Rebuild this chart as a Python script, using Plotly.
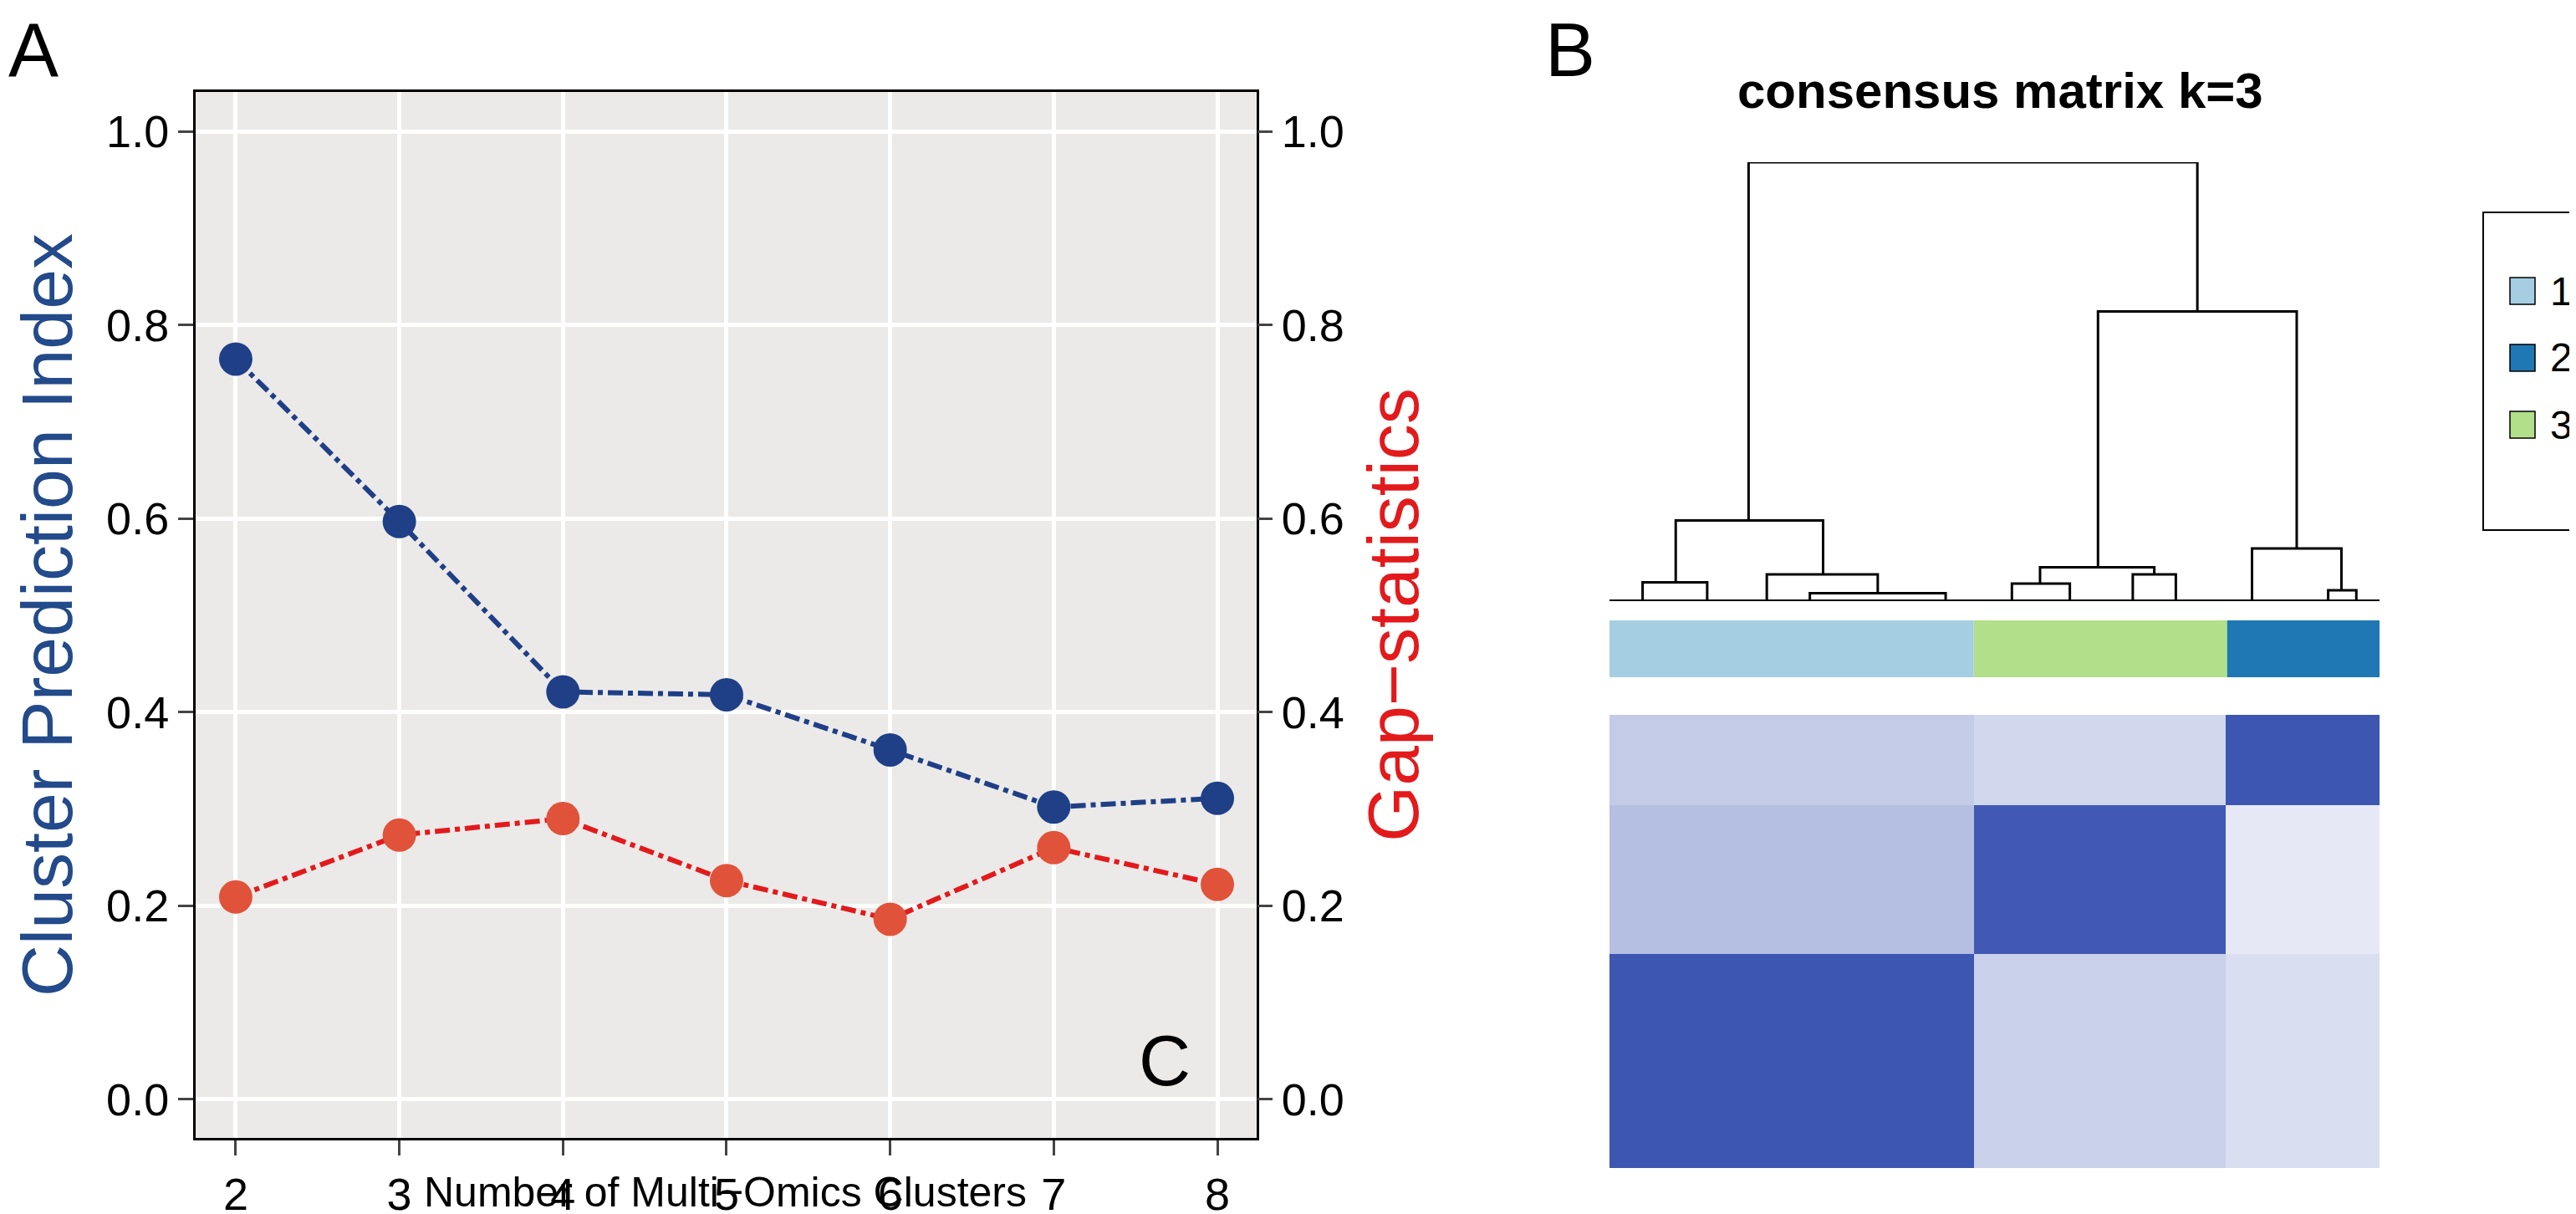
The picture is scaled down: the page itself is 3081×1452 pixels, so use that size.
import plotly.graph_objects as go

W, H = 3081, 1452
k_vals = [2, 3, 4, 5, 6, 7, 8]
cpi = [0.765, 0.597, 0.421, 0.418, 0.361, 0.302, 0.311]
gap = [0.209, 0.273, 0.290, 0.226, 0.186, 0.260, 0.222]

# consensus matrix (block level), samples ordered as dendrogram leaves
col_edges = [0, 220, 372, 465]          # cluster 1, 3, 2
row_edges = [0, 93, 245, 465]           # cluster 2, 3, 1 (top to bottom)
cons = [[0.28, 0.22, 0.92],
        [0.35, 0.90, 0.12],
        [0.92, 0.25, 0.18]]
ann_start = [0, 220, 373]
ann_end = [220, 373, 465]
ann_cluster = ["1", "3", "2"]
cl_colors = {"1": "#A6CEE3", "2": "#1F78B4", "3": "#B2DF8A"}

# dendrogram nodes: left x, right x, height, left child height, right child height
node_lx = [84, 40, 20, 95, 121, 295, 260, 243, 316, 388, 434]
node_rx = [355, 129, 59, 162, 203, 415, 329, 278, 342, 442, 451]
node_h = [1.0, 0.184, 0.043, 0.061, 0.018, 0.66, 0.077, 0.04, 0.061, 0.12, 0.025]
node_lh = [0.184, 0.043, 0.0, 0.0, 0.0, 0.077, 0.04, 0.0, 0.0, 0.0, 0.0]
node_rh = [0.66, 0.061, 0.0, 0.018, 0.0, 0.12, 0.061, 0.0, 0.0, 0.025, 0.0]

fig = go.Figure()
blue, red = "#1F3F87", "#E31A1C"
fig.add_trace(go.Scatter(x=k_vals, y=cpi, mode="lines+markers", xaxis="x", yaxis="y",
                         line=dict(color=blue, width=6, dash="dashdot"),
                         marker=dict(color=blue, size=40), showlegend=False))
fig.add_trace(go.Scatter(x=k_vals, y=gap, mode="lines+markers", xaxis="x", yaxis="y5",
                         line=dict(color=red, width=6, dash="dashdot"),
                         marker=dict(color="#E0533A", size=40), showlegend=False))

fig.add_trace(go.Heatmap(x=col_edges, y=row_edges, z=cons, xaxis="x2", yaxis="y2",
                         colorscale=[[0, "#FFFFFF"], [1, "#2C47AA"]], zmin=0, zmax=1,
                         showscale=False))

dx, dy = [], []
for lx, rx, h, lh, rh in zip(node_lx, node_rx, node_h, node_lh, node_rh):
    dx += [lx, lx, rx, rx, None]
    dy += [lh, h, h, rh, None]
fig.add_trace(go.Scatter(x=dx, y=dy, mode="lines", xaxis="x3", yaxis="y3",
                         line=dict(color="black", width=3), showlegend=False))
fig.add_trace(go.Scatter(x=[0, 465], y=[0, 0], mode="lines", xaxis="x3", yaxis="y3",
                         line=dict(color="black", width=4), showlegend=False))

shapes = [dict(type="rect", xref="paper", yref="paper", x0=226 / W, x1=1495 / W,
               y0=1 - 1353 / H, y1=1 - 102 / H, fillcolor="#EBEAE8", line_width=0, layer="below")]
for s, e, c in zip(ann_start, ann_end, ann_cluster):
    shapes.append(dict(type="rect", xref="x2", yref="paper", x0=s, x1=e,
                       y0=1 - 802 / H, y1=1 - 734 / H, fillcolor=cl_colors[c], line_width=0))
# legend box
shapes.append(dict(type="rect", xref="paper", yref="paper", x0=2962 / W, x1=3076 / W,
                   y0=1 - 626 / H, y1=1 - 246 / H, line=dict(color="black", width=2)))
annotations = []
for i, c in enumerate(["1", "2", "3"]):
    yc = 340 + i * 80
    shapes.append(dict(type="rect", xref="paper", yref="paper", x0=2994 / W, x1=3024 / W,
                       y0=1 - (yc + 16) / H, y1=1 - (yc - 16) / H,
                       fillcolor=cl_colors[c], line=dict(color="black", width=1.5)))
    annotations.append(dict(text=c, x=3040 / W, y=1 - yc / H, xref="paper", yref="paper",
                            showarrow=False, xanchor="left", yanchor="middle",
                            font=dict(size=48, color="black")))

annotations += [
    dict(text="A", x=0.0, y=1.0, xref="paper", yref="paper", showarrow=False,
         xanchor="left", yanchor="top", font=dict(size=90)),
    dict(text="B", x=1838 / W, y=1.0, xref="paper", yref="paper", showarrow=False,
         xanchor="left", yanchor="top", font=dict(size=90)),
    dict(text="C", x=7.68, y=0.04, xref="x", yref="y", showarrow=False,
         font=dict(size=86)),
    dict(text="Number of Multi−Omics Clusters", x=860 / W, y=1 - 1418 / H, xref="paper",
         yref="paper", showarrow=False, xanchor="center", yanchor="middle", font=dict(size=50)),
    dict(text="<b>consensus matrix k=3</b>", x=2384 / W, y=1 - 100 / H, xref="paper", yref="paper",
         showarrow=False, xanchor="center", yanchor="middle",
         font=dict(size=60, family="Liberation Sans Narrow, Arial Narrow, sans-serif")),
]

fig.update_layout(
    width=W, height=H, margin=dict(l=0, r=0, t=0, b=0),
    paper_bgcolor="white", plot_bgcolor="rgba(0,0,0,0)",
    font=dict(family="Liberation Sans, Arial, sans-serif", color="black", size=54),
    shapes=shapes, annotations=annotations,
    xaxis=dict(domain=[226 / W, 1495 / W], range=[1.755, 8.24], tickvals=k_vals,
               showgrid=True, gridcolor="white", gridwidth=5, zeroline=False,
               ticks="outside", ticklen=18, tickwidth=3, tickfont=dict(size=54),
               showline=True, linecolor="black", linewidth=3, mirror=True,
               anchor="y"),
    yaxis=dict(domain=[1 - 1353 / H, 1 - 102 / H], range=[-0.04, 1.041],
               tickvals=[0, 0.2, 0.4, 0.6, 0.8, 1.0], ticktext=["0.0", "0.2", "0.4", "0.6", "0.8", "1.0"],
               showgrid=True, gridcolor="white", gridwidth=5, zeroline=False,
               ticks="outside", ticklen=18, tickwidth=3, tickfont=dict(size=54),
               showline=True, linecolor="black", linewidth=3, mirror=True,
               title=dict(text="Cluster Prediction Index", font=dict(size=86, color="#234A8A"), standoff=18),
               anchor="x"),
    yaxis5=dict(overlaying="y", side="right", anchor="x", range=[-0.04, 1.041],
                tickvals=[0, 0.2, 0.4, 0.6, 0.8, 1.0], ticktext=["0.0", "0.2", "0.4", "0.6", "0.8", "1.0"],
                showgrid=False, zeroline=False, ticks="outside", ticklen=18, tickwidth=3,
                tickfont=dict(size=54),
                title=dict(text="Gap−statistics", font=dict(size=86, color=red), standoff=28)),
    xaxis2=dict(domain=[1917 / W, 2838 / W], range=[0, 465], visible=False, anchor="y2"),
    yaxis2=dict(domain=[1 - 1389 / H, 1 - 847 / H], range=[465, 0], visible=False, anchor="x2"),
    xaxis3=dict(domain=[1917 / W, 2838 / W], range=[0, 465], visible=False, anchor="y3"),
    yaxis3=dict(domain=[1 - 711 / H, 1 - 186 / H], range=[0, 1], visible=False, anchor="x3"),
)
fig.write_html("out.html")
